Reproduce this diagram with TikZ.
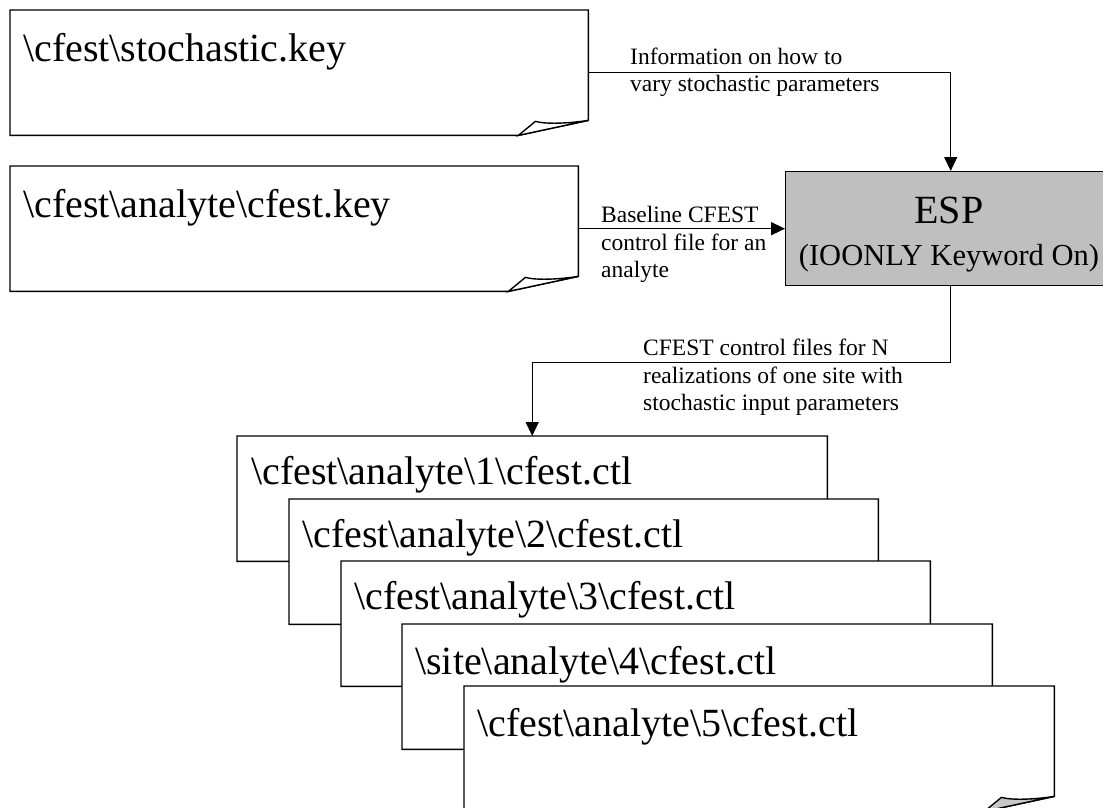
\documentclass[tikz,border=0pt]{standalone}
\usepackage{fontspec}
\setmainfont{Liberation Serif}
\usetikzlibrary{arrows.meta}

\tikzset{
  line/.style={draw=black, line width=1.4pt, line join=miter},
  sheet/.style={line, fill=white},
  docframe/.style={draw=none, inner sep=0pt, minimum height=125pt, minimum width=#1, anchor=north west},
  doctext/.style={inner sep=0pt, anchor=base west, font=\fontsize{40}{48}\selectfont},
  flowlabel/.style={inner sep=0pt, anchor=north west, align=left, font=\fontsize{23.5}{27.5}\selectfont},
  espbox/.style={line, fill=black!25, inner sep=0pt, anchor=north west},
  conn/.style={line, -{Triangle[length=14pt, width=13pt]}},
}

% folded-corner sheet drawn around a named frame node
\newcommand{\drawsheet}[2]{%
  \filldraw[sheet] (#1.north west) -- (#1.north east) -- ([yshift=15pt]#1.south east)
    -- ([xshift=-70pt]#1.south east) -- (#1.south west) -- cycle;
  \filldraw[sheet, fill=#2] ([xshift=-70pt]#1.south east)
    -- ([xshift=-53pt, yshift=14pt]#1.south east)
    .. controls ([xshift=-42pt, yshift=11pt]#1.south east) and ([xshift=-20pt, yshift=12pt]#1.south east)
    .. ([yshift=15pt]#1.south east) -- cycle;
}

\begin{document}
\begin{tikzpicture}[x=1pt, y=-1pt]
\useasboundingbox (0,0) rectangle (1103,808);

% input files
\node[docframe=578pt] (keyfile) at (10,10) {};
\drawsheet{keyfile}{white}
\node[doctext] (keyname) at ([xshift=13pt, yshift=-52pt]keyfile.north west) {\textbackslash cfest\textbackslash stochastic.key};

\node[docframe=568pt] (basefile) at (10,166) {};
\drawsheet{basefile}{white}
\node[doctext] (basename) at ([xshift=13pt, yshift=-51pt]basefile.north west) {\textbackslash cfest\textbackslash analyte\textbackslash cfest.key};

% processor
\node[espbox, minimum width=330pt, minimum height=114pt] (esp) at (785,171) {};
\node[inner sep=0pt, anchor=base, font=\fontsize{40}{48}\selectfont] (espname) at (949,223) {ESP};
\node[inner sep=0pt, anchor=base, font=\fontsize{30.5}{36}\selectfont] (espmode) at (949,265) {(IOONLY Keyword On)};

% generated control files, stacked
\node[docframe=590pt] (ctlA) at (237,436) {};
\drawsheet{ctlA}{white}
\node[doctext] (nameA) at ([xshift=14pt, yshift=-48pt]ctlA.north west) {\textbackslash cfest\textbackslash analyte\textbackslash 1\textbackslash cfest.ctl};

\node[docframe=589pt] (ctlB) at (289,499) {};
\drawsheet{ctlB}{white}
\node[doctext] (nameB) at ([xshift=13pt, yshift=-48pt]ctlB.north west) {\textbackslash cfest\textbackslash analyte\textbackslash 2\textbackslash cfest.ctl};

\node[docframe=589pt] (ctlC) at (341,561) {};
\drawsheet{ctlC}{white}
\node[doctext] (nameC) at ([xshift=13pt, yshift=-48pt]ctlC.north west) {\textbackslash cfest\textbackslash analyte\textbackslash 3\textbackslash cfest.ctl};

\node[docframe=590pt] (ctlD) at (402,624) {};
\drawsheet{ctlD}{white}
\node[doctext] (nameD) at ([xshift=13pt, yshift=-50pt]ctlD.north west) {\textbackslash site\textbackslash analyte\textbackslash 4\textbackslash cfest.ctl};

\node[docframe=590pt] (ctlE) at (464,686) {};
\drawsheet{ctlE}{black!22}
\node[doctext] (nameE) at ([xshift=13pt, yshift=-50pt]ctlE.north west) {\textbackslash cfest\textbackslash analyte\textbackslash 5\textbackslash cfest.ctl};

% connectors
\draw[conn] (keyfile.east) -| (esp.north);
\draw[conn] (basefile.east |- esp.west) -- (esp.west);
\draw[conn] (esp.south) -- ++(0,76) -| (ctlA.north);

% connector labels
\node[flowlabel] (infolabel) at (630,47.5) {Information on how to\\vary stochastic parameters};
\node[flowlabel] (baselabel) at (601,206) {Baseline CFEST\\control file for an\\analyte};
\node[flowlabel] (ctllabel) at (643,339) {CFEST control files for N\\realizations of one site with\\stochastic input parameters};
\end{tikzpicture}
\end{document}
